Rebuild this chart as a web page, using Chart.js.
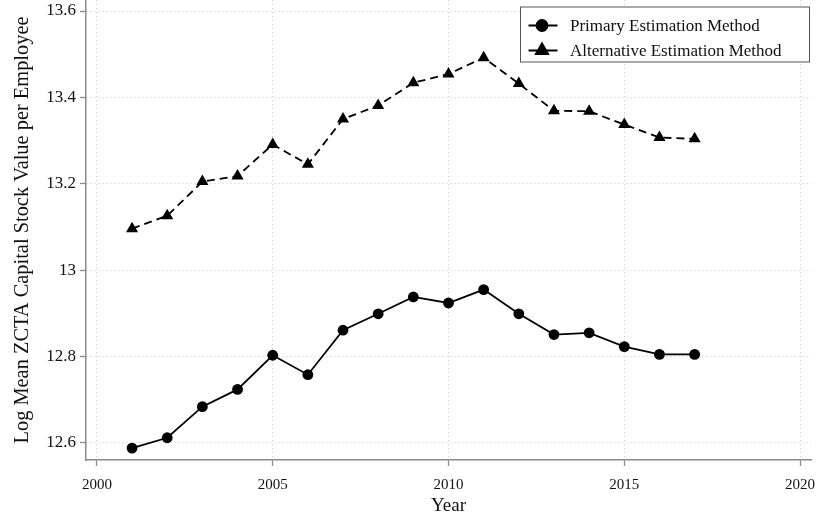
<!DOCTYPE html>
<html>
<head>
<meta charset="utf-8">
<script src="https://cdn.jsdelivr.net/npm/chart.js@4.4.1/dist/chart.umd.min.js"></script>
<style>
  html, body { margin: 0; padding: 0; background: #ffffff; }
  #wrap { width: 816px; height: 521px; position: relative; }
</style>
</head>
<body>
<div id="wrap"><canvas id="chart"></canvas></div>
<script>
// Survey years
const years = [2001, 2002, 2003, 2004, 2005, 2006, 2007, 2008, 2009,
               2010, 2011, 2012, 2013, 2014, 2015, 2016, 2017];

// Log mean ZCTA capital stock value per employee
const primaryValues = [12.588, 12.612, 12.684, 12.724, 12.803, 12.758, 12.861, 12.899, 12.938,
                       12.924, 12.955, 12.899, 12.851, 12.855, 12.823, 12.805, 12.805];
const alternativeValues = [13.096, 13.126, 13.205, 13.218, 13.291, 13.245, 13.350, 13.381, 13.434,
                           13.454, 13.492, 13.432, 13.369, 13.368, 13.337, 13.307, 13.304];

const seriesNames = ['Primary Estimation Method', 'Alternative Estimation Method'];

// Axis ticks
const yearTicks = [2000, 2005, 2010, 2015, 2020];
const valueTicks = [12.6, 12.8, 13, 13.2, 13.4, 13.6];

const FONT = '"Liberation Serif", "DejaVu Serif", serif';
const AXIS_GREY = '#8a8a8a';
const GRID_GREY = '#c8c8c8';

// Boxed legend inside the top-right of the plot region
const boxLegend = {
  id: 'boxLegend',
  afterDraw(chart) {
    const ctx = chart.ctx;
    const area = chart.chartArea;
    const right = area.right - 1;
    const left = right - 290;
    const top = area.top + 6.5;
    const height = 56;
    ctx.save();
    ctx.fillStyle = '#ffffff';
    ctx.fillRect(left, top, right - left, height);
    ctx.strokeStyle = '#555555';
    ctx.lineWidth = 1;
    ctx.strokeRect(left + 0.5, top + 0.5, right - left - 1, height - 1);
    ctx.font = '17px ' + FONT;
    ctx.textBaseline = 'middle';
    ctx.textAlign = 'left';
    chart.data.datasets.forEach((ds, i) => {
      const cy = top + 19 + i * 25;
      ctx.strokeStyle = '#000';
      ctx.lineWidth = 2;
      ctx.setLineDash([]);
      ctx.beginPath();
      ctx.moveTo(left + 8.5, cy);
      ctx.lineTo(left + 37.5, cy);
      ctx.stroke();
      Chart.helpers.drawPoint(ctx, {
        pointStyle: ds.pointStyle, radius: ds.pointRadius, rotation: 0, borderWidth: 1
      }, left + 22, cy);
      ctx.fillStyle = '#000';
      ctx.fill();
      ctx.fillStyle = '#111';
      ctx.fillText(ds.label, left + 50, cy + 1);
    });
    ctx.restore();
  }
};

const toPoints = vals => years.map((yr, i) => ({ x: yr, y: vals[i] }));

new Chart(document.getElementById('chart'), {
  type: 'line',
  data: {
    datasets: [
      {
        label: seriesNames[0],
        data: toPoints(primaryValues),
        borderColor: '#000',
        backgroundColor: '#000',
        borderWidth: 1.8,
        pointStyle: 'circle',
        pointRadius: 5.4,
        pointBorderWidth: 0,
        pointBackgroundColor: '#000',
        tension: 0
      },
      {
        label: seriesNames[1],
        data: toPoints(alternativeValues),
        borderColor: '#000',
        backgroundColor: '#000',
        borderWidth: 1.8,
        borderDash: [8, 5],
        pointStyle: 'triangle',
        pointRadius: 7,
        pointBorderWidth: 0,
        pointBackgroundColor: '#000',
        tension: 0
      }
    ]
  },
  options: {
    responsive: true,
    maintainAspectRatio: false,
    animation: false,
    layout: { autoPadding: false, padding: { left: 0, top: 0, right: 5, bottom: 0 } },
    plugins: {
      legend: { display: false },
      tooltip: { enabled: false }
    },
    scales: {
      x: {
        type: 'linear',
        min: 1999.69,
        max: 2020.31,
        afterBuildTicks: s => { s.ticks = yearTicks.map(v => ({ value: v })); },
        afterFit: s => { s.height = 61; s.paddingLeft = 0; s.paddingRight = 0; },
        ticks: {
          font: { family: FONT, size: 15 },
          color: '#111',
          padding: 10,
          maxRotation: 0,
          callback: v => String(v)
        },
        grid: {
          color: GRID_GREY, lineWidth: 1,
          tickColor: AXIS_GREY, tickLength: 6, tickWidth: 1.3
        },
        border: { display: true, color: AXIS_GREY, width: 1.5, dash: [1, 3] },
        title: {
          display: true, text: 'Year',
          font: { family: FONT, size: 19 }, color: '#111',
          padding: { top: 0, bottom: 4 }
        }
      },
      y: {
        type: 'linear',
        min: 12.5605,
        max: 13.6255,
        afterBuildTicks: s => { s.ticks = valueTicks.map(v => ({ value: v })); },
        afterFit: s => { s.width = 86; s.paddingTop = 0; s.paddingBottom = 0; },
        ticks: {
          font: { family: FONT, size: 17 },
          color: '#111',
          padding: 4,
          callback: v => String(+v.toFixed(1))
        },
        grid: {
          color: GRID_GREY, lineWidth: 1,
          tickColor: AXIS_GREY, tickLength: 6, tickWidth: 1.3
        },
        border: { display: true, color: AXIS_GREY, width: 1.5, dash: [1, 3] },
        title: {
          display: true, text: 'Log Mean ZCTA Capital Stock Value per Employee',
          font: { family: FONT, size: 20.4 }, color: '#111',
          padding: { top: 10, bottom: 0 }
        }
      }
    }
  },
  plugins: [boxLegend]
});
</script>
</body>
</html>
